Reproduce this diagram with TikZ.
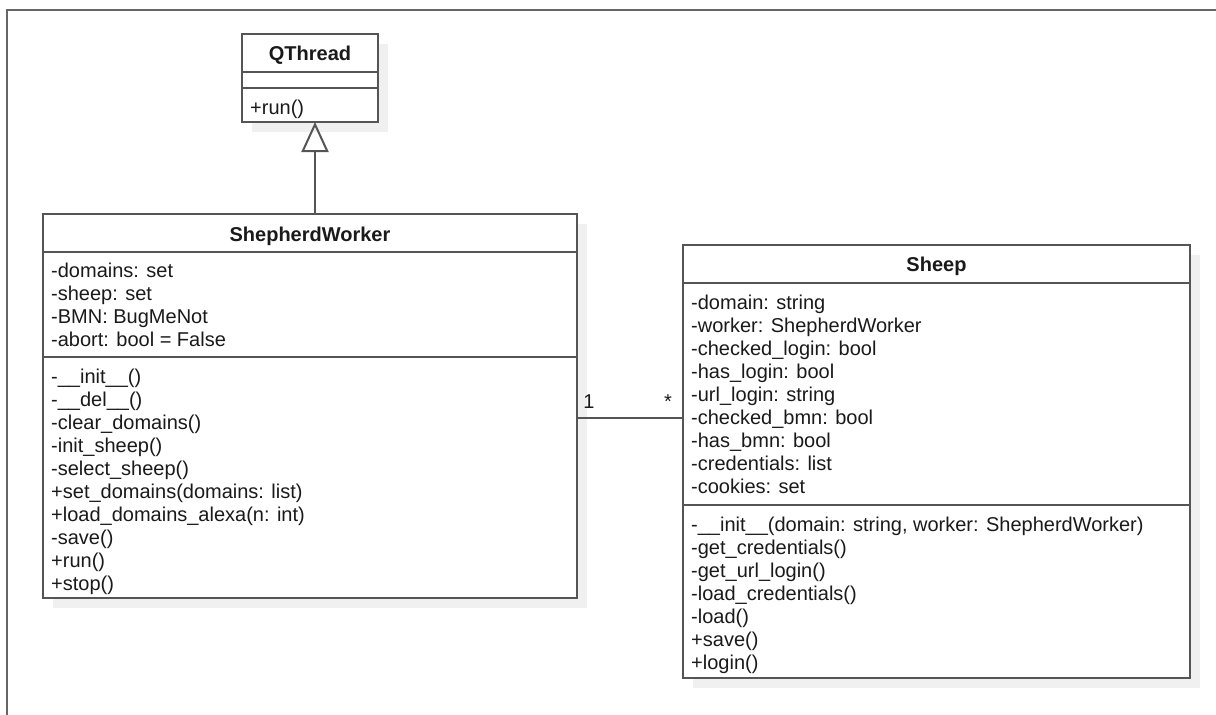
\documentclass[tikz,border=0pt]{standalone}
\usepackage{fontspec}
\setmainfont{Liberation Sans}
\usetikzlibrary{arrows.meta,shadows}
\definecolor{linec}{HTML}{555555}
\definecolor{shadc}{HTML}{F0F0F0}
\definecolor{txtc}{HTML}{1A1A1A}
\definecolor{framec}{HTML}{666666}
\tikzset{
  classbox/.style={draw=linec, line width=2pt, fill=white, rectangle, inner sep=0pt, outer sep=0pt,
    drop shadow={shadow xshift=10pt, shadow yshift=-10pt, fill=shadc, opacity=1}},
  divider/.style={draw=linec, line width=2pt},
  mem/.style={anchor=base west, inner sep=0pt, text=txtc, font=\fontsize{20}{23}\selectfont},
  ttl/.style={anchor=base, inner sep=0pt, text=txtc, font=\fontsize{20}{23}\selectfont\bfseries},
  conn/.style={draw=linec, line width=2pt},
  mult/.style={anchor=base, inner sep=0pt, text=txtc, font=\fontsize{20}{23}\selectfont},
  frameline/.style={draw=framec, line width=2.5pt},
}
\begin{document}
\begin{tikzpicture}[x=1pt,y=-1pt]
\useasboundingbox (0,0) rectangle (1216,715);
\draw[frameline] (7,715) -- (7,10) -- (1216,10);

% QThread
\node[classbox, minimum width=136pt, minimum height=88pt] (qt) at (310,78) {};
\draw[divider] (qt.west |- 0,72) -- (qt.east |- 0,72);
\draw[divider] (qt.west |- 0,88) -- (qt.east |- 0,88);
\node[ttl] (qt-t) at (310,60) {QThread};
\node[mem] (qt-m1) at (250,114) {+run()};

% ShepherdWorker
\node[classbox, minimum width=534pt, minimum height=384pt] (sw) at (310,406) {};
\draw[divider] (sw.west |- 0,252) -- (sw.east |- 0,252);
\draw[divider] (sw.west |- 0,357) -- (sw.east |- 0,357);
\node[ttl] (sw-t) at (310,241) {ShepherdWorker};
\node[mem] (sw-a1) at (51,277) {-domains: set};
\node[mem] (sw-a2) at (51,300) {-sheep: set};
\node[mem] (sw-a3) at (51,323) {-BMN: BugMeNot};
\node[mem] (sw-a4) at (51,346) {-abort: bool = False};
\node[mem] (sw-m1) at (51,383) {-\_\_init\_\_()};
\node[mem] (sw-m2) at (51,406) {-\_\_del\_\_()};
\node[mem] (sw-m3) at (51,429) {-clear\_domains()};
\node[mem] (sw-m4) at (51,452) {-init\_sheep()};
\node[mem] (sw-m5) at (51,475) {-select\_sheep()};
\node[mem] (sw-m6) at (51,498) {+set\_domains(domains: list)};
\node[mem] (sw-m7) at (51,521) {+load\_domains\_alexa(n: int)};
\node[mem] (sw-m8) at (51,544) {-save()};
\node[mem] (sw-m9) at (51,567) {+run()};
\node[mem] (sw-m10) at (51,590) {+stop()};

% Sheep
\node[classbox, minimum width=507pt, minimum height=433pt] (sh) at (936.5,461.5) {};
\draw[divider] (sh.west |- 0,283) -- (sh.east |- 0,283);
\draw[divider] (sh.west |- 0,505) -- (sh.east |- 0,505);
\node[ttl] (sh-t) at (936.5,271) {Sheep};
\node[mem] (sh-a1) at (691,309) {-domain: string};
\node[mem] (sh-a2) at (691,332) {-worker: ShepherdWorker};
\node[mem] (sh-a3) at (691,355) {-checked\_login: bool};
\node[mem] (sh-a4) at (691,378) {-has\_login: bool};
\node[mem] (sh-a5) at (691,401) {-url\_login: string};
\node[mem] (sh-a6) at (691,424) {-checked\_bmn: bool};
\node[mem] (sh-a7) at (691,447) {-has\_bmn: bool};
\node[mem] (sh-a8) at (691,470) {-credentials: list};
\node[mem] (sh-a9) at (691,493) {-cookies: set};
\node[mem] (sh-m1) at (691,531) {-\_\_init\_\_(domain: string, worker: ShepherdWorker)};
\node[mem] (sh-m2) at (691,554) {-get\_credentials()};
\node[mem] (sh-m3) at (691,577) {-get\_url\_login()};
\node[mem] (sh-m4) at (691,600) {-load\_credentials()};
\node[mem] (sh-m5) at (691,623) {-load()};
\node[mem] (sh-m6) at (691,646) {+save()};
\node[mem] (sh-m7) at (691,669) {+login()};

% generalization ShepherdWorker -> QThread
\coordinate (genx) at (315,0);
\draw[conn, -{Triangle[open, length=30pt, width=27pt]}] (sw.north -| genx) -- (qt.south -| genx);

% association
\coordinate (assy) at (0,418);
\draw[conn] (sw.east |- assy) -- (sh.west |- assy);
\node[mult] (m1) at (589,408) {1};
\node[mult] (m2) at (668,408) {*};
\end{tikzpicture}
\end{document}
